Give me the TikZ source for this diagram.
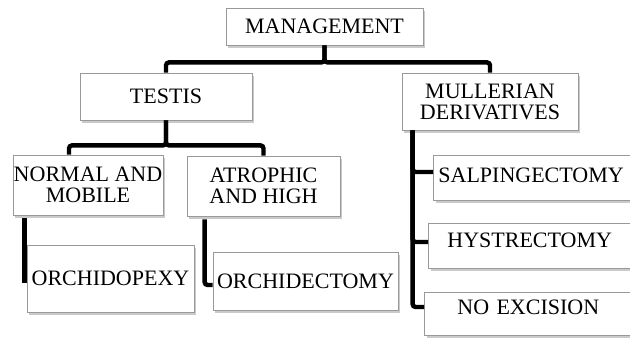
\documentclass[tikz,border=0pt]{standalone}
\usepackage{fontspec}
\setmainfont{Liberation Serif}
\usetikzlibrary{shadows}

\begin{document}
\begin{tikzpicture}[
    x=0.5pt,y=-0.5pt,
    box/.style={draw=gray!80,fill=white,inner sep=0pt,align=center,
      font=\fontsize{11}{10.5}\selectfont,
      drop shadow={shadow xshift=1.2pt,shadow yshift=-1.5pt,fill=gray!70,opacity=0.6}},
    sidebox/.style={box,anchor=west,text width=105pt,align=left},
    link/.style={line width=2.2pt,rounded corners=1.5pt}
  ]
  \useasboundingbox (0,0) rectangle (630,338);
  \clip (0,0) rectangle (630,338);

  \node[box,minimum width=98.5pt,minimum height=18.5pt] (management) at (324.5,26.5) {MANAGEMENT};
  \node[box,minimum width=86pt,minimum height=23.5pt] (testis) at (166,96.5) {TESTIS};
  \node[box,minimum width=88pt,minimum height=28.5pt] (mullerian) at (490,101.5) {MULLERIAN\\DERIVATIVES};
  \node[box,minimum width=75pt,minimum height=30pt] (normal) at (88,185) {NORMAL AND\\MOBILE};
  \node[box,minimum width=76.5pt,minimum height=30pt] (atrophic) at (263.5,186) {ATROPHIC\\AND HIGH};
  \node[box,minimum width=83.5pt,minimum height=33.5pt] (orchidopexy) at (110.5,278.5) {ORCHIDOPEXY};
  \node[box,minimum width=92.5pt,minimum height=29pt] (orchidectomy) at (305.5,281) {ORCHIDECTOMY};
  \node[sidebox,minimum height=22.5pt] (salping) at (433,177.5) {\hspace*{2.5pt}\raisebox{1.25pt}[\height][\depth]{SALPINGECTOMY}};
  \node[sidebox,minimum height=22.5pt] (hyst) at (428,245.5) {\hspace*{9.5pt}\raisebox{2.75pt}[\height][\depth]{HYSTRECTOMY}};
  \node[sidebox,minimum height=21.5pt] (noexcision) at (424,313.5) {\hspace*{16.5pt}\raisebox{3.25pt}[\height][\depth]{NO EXCISION}};

  % management to its two branches
  \draw[link] (management.south) -- ++(0,17) -| (testis.north);
  \draw[link] (management.south) -- ++(0,17) -| (mullerian.north);

  % testis
  \draw[link] (testis.south) -- ++(0,25) -| ([xshift=-9.5pt]normal.north);
  \draw[link] (testis.south) -- ++(0,25) -| (atrophic.north);
  \draw[link] ([xshift=-1pt,yshift=-1.5pt]normal.south -| orchidopexy.west) -- ([xshift=-1pt,yshift=-2.25pt]orchidopexy.west);
  \draw[link] ([xshift=9pt,yshift=-1.5pt]atrophic.south west) |- ([yshift=-2pt]orchidectomy.west);

  % mullerian derivatives
  \draw[link] ([xshift=5.5pt]mullerian.south west) |- ([yshift=2.75pt]salping.west);
  \draw[link] ([xshift=5.5pt]mullerian.south west) |- ([yshift=1.75pt]hyst.west);
  \draw[link] ([xshift=5.5pt]mullerian.south west) |- ([yshift=3.25pt]noexcision.west);
\end{tikzpicture}
\end{document}
